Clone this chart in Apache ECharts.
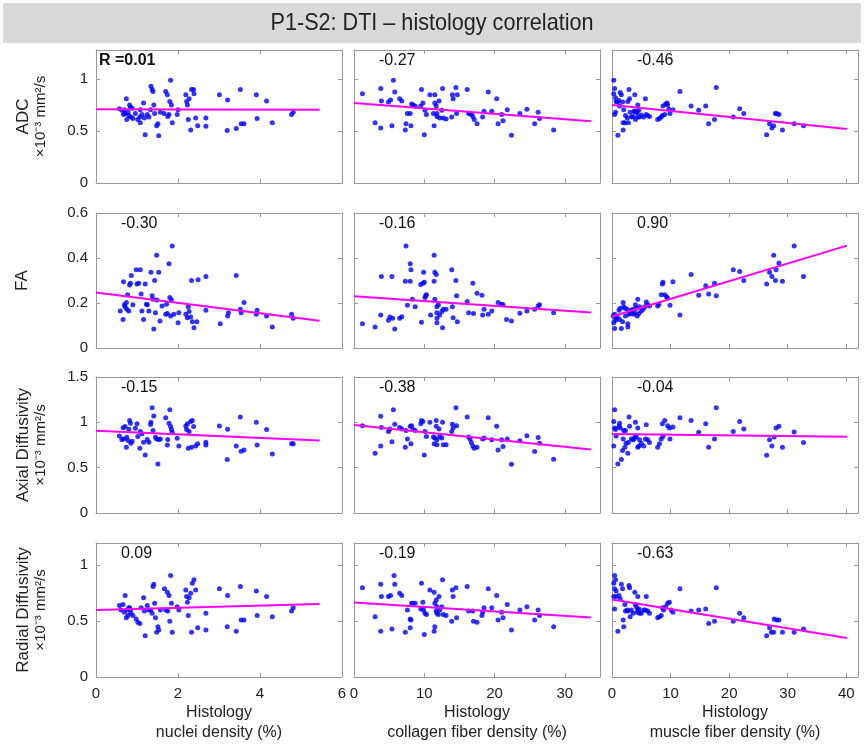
<!DOCTYPE html>
<html>
<head>
<meta charset="utf-8">
<script src="https://cdn.jsdelivr.net/npm/echarts@6/dist/echarts.min.js"></script>
<style>
  html, body { margin: 0; padding: 0; background: #fff; }
  #chart { width: 864px; height: 746px; }
</style>
</head>
<body>
<div id="chart"></div>
<script>
// ---- data ----
const chartTitle = 'P1-S2: DTI \u2013 histology correlation';
const rowNames = ['ADC', 'FA', 'Axial Diffusivity', 'Radial Diffusivity'];
const rowUnits = ['\u00d710\u207b\u00b3 mm\u00b2/s', '', '\u00d710\u207b\u00b3 mm\u00b2/s', '\u00d710\u207b\u00b3 mm\u00b2/s'];
const colNames = ['nuclei density (%)', 'collagen fiber density (%)', 'muscle fiber density (%)'];
const yMax = [1.28, 0.6, 1.5, 1.2];
const yStep = [0.5, 0.2, 0.5, 0.5];
const xMax = [6, 35, 42];
const xStep = [2, 10, 10];
const rLabels = [
  ['R =0.01', '-0.27', '-0.46'],
  ['-0.30', '-0.16', '0.90'],
  ['-0.15', '-0.38', '-0.04'],
  ['0.09', '-0.19', '-0.63']
];

const adcNuclei = [[0.57,0.715],[0.63,0.70],[0.67,0.66],[0.69,0.705],[0.71,0.67],[0.74,0.81],[0.75,0.61],[0.78,0.68],[0.80,0.65],[0.82,0.75],[0.84,0.73],[0.85,0.635],[0.88,0.72],[0.90,0.62],[0.96,0.67],[1.02,0.61],[1.07,0.635],[1.08,0.705],[1.08,0.58],[1.12,0.66],[1.16,0.77],[1.18,0.625],[1.20,0.465],[1.25,0.66],[1.29,0.635],[1.33,0.705],[1.34,0.93],[1.37,0.90],[1.39,0.88],[1.41,0.75],[1.43,0.67],[1.48,0.55],[1.51,0.57],[1.53,0.455],[1.57,0.68],[1.66,0.67],[1.70,0.88],[1.74,0.85],[1.75,0.64],[1.78,0.66],[1.80,0.785],[1.82,0.99],[1.84,0.75],[1.86,0.58],[1.98,0.66],[2.00,0.705],[2.19,0.85],[2.21,0.785],[2.23,0.75],[2.25,0.61],[2.27,0.81],[2.31,0.51],[2.33,0.90],[2.38,0.90],[2.39,0.86],[2.43,0.625],[2.48,0.55],[2.68,0.625],[2.68,0.545],[3.01,0.85],[3.20,0.505],[3.21,0.80],[3.42,0.525],[3.52,0.90],[3.54,0.57],[3.61,0.57],[3.91,0.85],[3.93,0.62],[4.16,0.79],[4.30,0.58],[4.77,0.66],[4.81,0.68]];
const adcCollagen = [[1.2,0.86],[3.0,0.58],[3.8,0.91],[3.8,0.53],[3.9,0.79],[4.9,0.78],[5.2,0.80],[5.4,0.55],[5.6,0.99],[5.8,0.875],[6.5,0.81],[6.8,0.79],[7.3,0.51],[7.4,0.57],[7.6,0.67],[8.0,0.67],[8.1,0.55],[8.2,0.76],[8.4,0.75],[8.7,0.74],[9.5,0.74],[9.6,0.90],[9.8,0.77],[10.0,0.465],[10.1,0.70],[10.3,0.66],[10.8,0.85],[11.3,0.67],[11.4,0.55],[11.5,0.85],[11.5,0.77],[11.7,0.74],[11.8,0.67],[11.8,0.64],[12.1,0.79],[12.2,0.625],[12.5,0.70],[12.6,0.91],[12.7,0.625],[13.1,0.615],[13.9,0.635],[14.0,0.85],[14.1,0.81],[14.5,0.92],[14.6,0.67],[14.7,0.85],[16.1,0.90],[16.3,0.67],[16.5,0.67],[16.7,0.66],[16.9,0.64],[17.1,0.61],[17.5,0.57],[18.3,0.635],[18.5,0.69],[19.1,0.875],[19.6,0.69],[20.3,0.81],[20.5,0.57],[21.0,0.66],[21.2,0.60],[21.8,0.705],[22.4,0.46],[23.6,0.67],[24.6,0.71],[25.7,0.57],[26.2,0.68],[26.4,0.62],[28.4,0.51]];
const adcMuscle = [[0.3,0.99],[0.45,0.91],[0.3,0.86],[0.6,0.82],[0.7,0.785],[0.9,0.78],[0.45,0.66],[0.6,0.68],[1.2,0.795],[1.3,0.74],[1.4,0.87],[1.6,0.85],[1.8,0.78],[1.9,0.58],[2.0,0.705],[2.2,0.58],[2.3,0.65],[1.0,0.46],[1.9,0.51],[2.6,0.625],[2.7,0.785],[2.8,0.58],[2.9,0.90],[3.0,0.81],[3.1,0.68],[3.3,0.635],[3.6,0.64],[3.75,0.69],[3.9,0.85],[3.9,0.69],[4.0,0.61],[4.15,0.68],[4.3,0.68],[4.4,0.635],[4.4,0.75],[4.6,0.705],[4.7,0.635],[5.0,0.655],[5.4,0.635],[5.7,0.81],[5.85,0.66],[6.1,0.65],[6.4,0.64],[7.8,0.61],[8.1,0.62],[8.4,0.635],[8.6,0.65],[8.7,0.74],[9.0,0.66],[9.15,0.76],[9.4,0.77],[9.5,0.75],[9.7,0.71],[9.9,0.67],[10.4,0.705],[11.6,0.88],[13.5,0.74],[14.8,0.70],[16.0,0.74],[16.5,0.57],[17.5,0.61],[17.8,0.92],[20.7,0.635],[21.8,0.715],[22.5,0.67],[26.4,0.465],[26.9,0.57],[27.3,0.53],[27.6,0.55],[27.9,0.67],[28.1,0.67],[28.5,0.66],[29.1,0.51],[31.1,0.57],[32.7,0.55]];

const faNuclei = [[0.59,0.165],[0.66,0.127],[0.67,0.295],[0.69,0.192],[0.71,0.183],[0.74,0.202],[0.75,0.172],[0.77,0.237],[0.80,0.165],[0.82,0.28],[0.84,0.288],[0.86,0.322],[0.90,0.192],[0.98,0.348],[1.00,0.285],[1.04,0.288],[1.08,0.348],[1.10,0.24],[1.12,0.165],[1.16,0.127],[1.20,0.285],[1.23,0.195],[1.25,0.192],[1.29,0.165],[1.34,0.337],[1.37,0.232],[1.39,0.217],[1.41,0.085],[1.43,0.30],[1.45,0.157],[1.48,0.412],[1.49,0.213],[1.53,0.337],[1.56,0.12],[1.61,0.187],[1.70,0.15],[1.72,0.195],[1.74,0.153],[1.78,0.375],[1.80,0.225],[1.82,0.142],[1.84,0.214],[1.86,0.453],[1.90,0.15],[2.00,0.112],[2.02,0.157],[2.19,0.15],[2.23,0.135],[2.25,0.183],[2.27,0.162],[2.31,0.138],[2.33,0.30],[2.35,0.117],[2.39,0.09],[2.46,0.117],[2.49,0.303],[2.68,0.168],[2.68,0.318],[3.03,0.108],[3.21,0.142],[3.23,0.157],[3.42,0.322],[3.52,0.172],[3.54,0.157],[3.61,0.202],[3.91,0.15],[3.93,0.168],[4.16,0.142],[4.30,0.093],[4.77,0.15],[4.81,0.132]];
const faCollagen = [[1.2,0.108],[3.0,0.093],[3.8,0.147],[3.9,0.318],[4.9,0.123],[5.1,0.138],[5.4,0.318],[5.5,0.132],[5.8,0.085],[6.5,0.132],[6.8,0.139],[7.3,0.297],[7.4,0.453],[7.6,0.19],[8.0,0.297],[8.0,0.375],[8.1,0.348],[8.3,0.217],[8.7,0.183],[9.5,0.282],[9.6,0.114],[9.8,0.288],[9.9,0.337],[10.0,0.292],[10.1,0.225],[10.2,0.232],[10.3,0.237],[10.9,0.147],[11.4,0.412],[11.4,0.297],[11.5,0.337],[11.5,0.217],[11.7,0.327],[11.8,0.157],[11.8,0.132],[11.8,0.183],[11.8,0.112],[12.0,0.192],[12.2,0.147],[12.5,0.162],[12.6,0.09],[12.7,0.172],[13.1,0.172],[13.9,0.348],[14.0,0.183],[14.1,0.135],[14.5,0.30],[14.6,0.232],[14.7,0.117],[16.1,0.207],[16.3,0.157],[16.9,0.288],[17.0,0.153],[17.5,0.243],[18.2,0.235],[18.3,0.147],[18.5,0.172],[19.1,0.15],[19.6,0.165],[20.5,0.202],[21.0,0.195],[21.2,0.192],[21.7,0.127],[22.4,0.12],[23.6,0.154],[24.6,0.165],[25.7,0.172],[26.2,0.187],[26.4,0.192],[28.4,0.157]];
const faMuscle = [[0.2,0.142],[0.3,0.112],[0.45,0.087],[0.45,0.15],[0.6,0.123],[0.7,0.132],[0.9,0.138],[1.2,0.168],[1.3,0.127],[1.4,0.177],[1.6,0.087],[1.8,0.117],[1.9,0.202],[2.0,0.183],[2.2,0.177],[2.3,0.142],[2.6,0.172],[2.7,0.108],[2.7,0.093],[2.9,0.15],[3.1,0.153],[3.3,0.168],[3.6,0.172],[3.7,0.15],[3.9,0.157],[4.0,0.192],[4.15,0.177],[4.3,0.142],[4.4,0.217],[4.6,0.153],[4.7,0.183],[5.0,0.165],[5.3,0.172],[5.6,0.183],[5.85,0.205],[6.1,0.192],[6.4,0.187],[7.8,0.187],[8.0,0.195],[8.4,0.237],[8.6,0.285],[8.7,0.292],[9.0,0.237],[9.3,0.228],[9.5,0.222],[9.9,0.19],[10.4,0.295],[11.6,0.147],[13.5,0.327],[14.8,0.235],[16.0,0.277],[16.5,0.24],[17.5,0.288],[17.8,0.232],[20.7,0.348],[21.8,0.34],[22.5,0.30],[26.4,0.285],[26.9,0.337],[27.3,0.318],[27.6,0.412],[27.9,0.30],[28.0,0.348],[28.5,0.378],[29.1,0.297],[31.1,0.453],[32.7,0.318]];

const adNuclei = [[0.57,0.85],[0.63,0.81],[0.66,0.94],[0.67,0.815],[0.71,0.955],[0.74,0.725],[0.75,0.835],[0.78,0.80],[0.80,0.925],[0.82,1.02],[0.84,0.99],[0.85,0.77],[0.88,0.79],[0.96,0.935],[1.00,0.985],[1.02,0.845],[1.07,0.715],[1.08,0.90],[1.12,0.875],[1.16,0.78],[1.20,0.64],[1.25,0.81],[1.29,0.78],[1.33,0.975],[1.34,1.00],[1.37,1.16],[1.39,0.91],[1.41,1.07],[1.45,0.835],[1.48,0.815],[1.51,0.54],[1.53,0.81],[1.57,0.815],[1.70,1.05],[1.74,0.75],[1.75,0.81],[1.78,0.99],[1.80,1.14],[1.82,0.955],[1.84,0.92],[1.86,0.89],[1.98,0.825],[2.02,0.74],[2.19,0.96],[2.21,0.92],[2.23,0.985],[2.25,0.715],[2.27,0.90],[2.31,1.01],[2.33,0.725],[2.35,1.02],[2.38,0.955],[2.43,0.74],[2.48,0.765],[2.68,0.78],[2.68,0.75],[3.01,0.96],[3.20,0.59],[3.21,0.925],[3.42,0.74],[3.52,1.06],[3.54,0.68],[3.61,0.695],[3.91,1.00],[3.93,0.75],[4.16,0.92],[4.30,0.65],[4.77,0.765],[4.81,0.765]];
const adCollagen = [[1.2,0.963],[3.0,0.66],[3.8,1.067],[3.8,0.74],[3.9,0.944],[4.9,0.90],[5.1,0.926],[5.4,0.785],[5.6,1.14],[5.8,0.98],[6.5,0.944],[6.8,0.926],[7.3,0.726],[7.4,0.91],[7.6,0.815],[8.0,0.956],[8.1,0.763],[8.2,0.963],[8.4,0.92],[8.7,0.91],[9.5,0.985],[9.6,1.02],[9.8,1.01],[10.0,0.64],[10.1,0.90],[10.3,0.845],[10.8,1.00],[11.3,0.837],[11.4,0.763],[11.5,0.826],[11.7,1.02],[11.7,0.956],[11.8,0.807],[11.8,0.752],[12.1,0.926],[12.2,0.845],[12.5,0.826],[12.6,1.00],[12.7,0.752],[13.1,0.752],[13.9,0.90],[14.0,0.98],[14.1,0.937],[14.5,1.16],[14.6,0.963],[16.1,1.06],[16.3,0.837],[16.5,0.815],[16.7,0.778],[16.9,0.74],[17.1,0.715],[17.5,0.726],[18.3,0.815],[18.5,0.826],[19.1,1.05],[19.6,0.807],[20.3,0.956],[20.5,0.696],[21.0,0.807],[21.2,0.733],[21.8,0.815],[22.4,0.537],[23.6,0.796],[24.6,0.852],[25.7,0.678],[26.2,0.833],[26.4,0.77],[28.4,0.593]];
const adMuscle = [[0.45,1.14],[0.3,1.01],[0.45,0.937],[0.6,0.92],[0.3,0.74],[0.7,0.85],[1.0,0.54],[1.2,0.956],[1.3,0.99],[1.4,0.937],[1.6,0.59],[1.8,0.69],[1.9,0.815],[2.0,0.91],[2.2,0.726],[2.3,0.91],[2.4,0.77],[2.7,0.66],[2.8,0.778],[2.9,1.06],[3.0,0.956],[3.3,0.815],[3.6,0.807],[3.75,0.815],[3.9,0.837],[4.0,1.00],[4.15,0.837],[4.4,0.937],[4.4,0.726],[4.6,0.74],[4.7,0.807],[5.0,0.77],[5.4,0.74],[5.7,0.815],[5.85,0.974],[6.1,0.807],[6.4,0.778],[7.8,0.726],[8.1,0.763],[8.4,0.815],[8.6,0.985],[8.7,0.845],[9.0,1.02],[9.5,0.963],[9.8,0.937],[9.9,0.815],[10.4,0.948],[11.6,1.05],[13.5,1.02],[14.8,0.89],[16.0,0.985],[16.5,0.726],[17.5,0.815],[17.8,1.16],[20.7,0.90],[21.8,1.01],[22.5,0.926],[26.4,0.637],[26.9,0.807],[27.3,0.74],[27.7,0.837],[28.0,0.937],[28.5,0.956],[29.1,0.726],[31.1,0.893],[32.7,0.778]];

const rdNuclei = [[0.57,0.64],[0.61,0.60],[0.66,0.65],[0.69,0.58],[0.71,0.73],[0.74,0.53],[0.75,0.60],[0.78,0.55],[0.80,0.62],[0.82,0.62],[0.84,0.60],[0.85,0.57],[0.90,0.55],[0.98,0.52],[1.02,0.49],[1.07,0.48],[1.10,0.62],[1.16,0.71],[1.18,0.59],[1.20,0.37],[1.25,0.64],[1.29,0.60],[1.33,0.60],[1.37,0.57],[1.39,0.81],[1.41,0.83],[1.43,0.66],[1.45,0.53],[1.48,0.40],[1.51,0.45],[1.53,0.42],[1.57,0.60],[1.67,0.79],[1.70,0.60],[1.74,0.76],[1.75,0.59],[1.78,0.73],[1.80,0.50],[1.82,0.91],[1.84,0.66],[1.86,0.40],[1.98,0.63],[2.02,0.60],[2.19,0.78],[2.21,0.72],[2.23,0.67],[2.25,0.55],[2.27,0.71],[2.31,0.75],[2.33,0.40],[2.35,0.84],[2.39,0.87],[2.43,0.78],[2.48,0.44],[2.68,0.57],[2.68,0.42],[3.01,0.79],[3.20,0.45],[3.21,0.73],[3.42,0.41],[3.52,0.81],[3.54,0.51],[3.61,0.51],[3.91,0.77],[3.93,0.55],[4.16,0.72],[4.30,0.54],[4.77,0.59],[4.81,0.62]];
const rdCollagen = [[1.2,0.80],[3.0,0.54],[3.8,0.83],[3.8,0.41],[3.9,0.72],[4.9,0.72],[5.2,0.73],[5.4,0.43],[5.7,0.91],[5.8,0.83],[6.5,0.75],[6.8,0.73],[7.3,0.40],[7.6,0.60],[8.0,0.52],[8.0,0.44],[8.1,0.51],[8.2,0.66],[8.4,0.66],[8.7,0.66],[9.5,0.61],[9.6,0.84],[9.8,0.67],[9.9,0.60],[10.0,0.38],[10.1,0.57],[10.3,0.56],[10.8,0.78],[11.4,0.76],[11.4,0.41],[11.5,0.45],[11.5,0.66],[11.7,0.69],[11.7,0.59],[11.8,0.57],[11.8,0.63],[12.0,0.56],[12.1,0.72],[12.2,0.60],[12.5,0.63],[12.6,0.87],[12.7,0.56],[13.1,0.55],[13.9,0.50],[14.0,0.78],[14.1,0.72],[14.5,0.80],[14.6,0.53],[16.1,0.81],[16.3,0.59],[16.9,0.59],[17.0,0.50],[17.5,0.49],[18.2,0.55],[18.3,0.58],[18.5,0.62],[19.1,0.79],[19.6,0.62],[20.3,0.73],[20.5,0.51],[21.0,0.58],[21.2,0.53],[21.8,0.65],[22.4,0.42],[23.6,0.60],[24.6,0.63],[25.7,0.51],[26.2,0.60],[26.4,0.55],[28.4,0.45]];
const rdMuscle = [[0.45,0.91],[0.3,0.84],[0.6,0.87],[0.45,0.79],[0.3,0.72],[0.7,0.77],[0.45,0.61],[0.7,0.72],[1.0,0.41],[1.2,0.73],[1.4,0.70],[1.6,0.83],[1.8,0.79],[1.9,0.51],[2.0,0.45],[2.2,0.65],[2.3,0.59],[2.6,0.60],[2.7,0.59],[2.9,0.82],[3.0,0.80],[3.1,0.54],[3.3,0.60],[3.6,0.57],[3.9,0.76],[4.0,0.65],[4.15,0.63],[4.3,0.58],[4.4,0.60],[4.4,0.72],[4.6,0.61],[4.7,0.57],[5.0,0.57],[5.4,0.60],[5.7,0.60],[5.85,0.72],[6.1,0.59],[6.4,0.57],[7.8,0.53],[8.1,0.54],[8.4,0.55],[8.6,0.62],[8.8,0.60],[9.15,0.63],[9.5,0.66],[9.8,0.67],[10.1,0.60],[10.4,0.58],[11.6,0.79],[13.5,0.59],[14.8,0.60],[16.0,0.61],[16.5,0.48],[17.5,0.50],[17.8,0.80],[20.7,0.50],[21.8,0.57],[22.5,0.53],[26.4,0.37],[26.9,0.44],[27.2,0.40],[27.6,0.40],[27.7,0.52],[28.1,0.51],[28.5,0.51],[29.1,0.40],[31.1,0.40],[32.7,0.43]];

// regression line end points [x, y]
const fitAdcNuclei = [[0, 0.71], [5.45, 0.705]];
const fitAdcCollagen = [[0, 0.77], [33.7, 0.595]];
const fitAdcMuscle = [[0, 0.75], [40.1, 0.52]];
const fitFaNuclei = [[0, 0.247], [5.45, 0.121]];
const fitFaCollagen = [[0, 0.23], [33.7, 0.158]];
const fitFaMuscle = [[0, 0.14], [40.1, 0.455]];
const fitAdNuclei = [[0, 0.908], [5.45, 0.80]];
const fitAdCollagen = [[0, 0.97], [33.7, 0.70]];
const fitAdMuscle = [[0, 0.87], [40.1, 0.84]];
const fitRdNuclei = [[0, 0.60], [5.45, 0.653]];
const fitRdCollagen = [[0, 0.667], [33.7, 0.533]];
const fitRdMuscle = [[0, 0.695], [40.1, 0.35]];

const points = [
  [adcNuclei, adcCollagen, adcMuscle],
  [faNuclei, faCollagen, faMuscle],
  [adNuclei, adCollagen, adMuscle],
  [rdNuclei, rdCollagen, rdMuscle]
];
const fits = [
  [fitAdcNuclei, fitAdcCollagen, fitAdcMuscle],
  [fitFaNuclei, fitFaCollagen, fitFaMuscle],
  [fitAdNuclei, fitAdCollagen, fitAdMuscle],
  [fitRdNuclei, fitRdCollagen, fitRdMuscle]
];

// ---- layout ----
const gridLeft = [96, 354, 612];
const gridTop = [50, 213, 377, 543];
const gridHeight = [133, 135, 136, 134];
const gridWidth = 246;
const font = '"Liberation Sans", Arial, Helvetica, sans-serif';
const boxColor = '#999';

const chart = echarts.init(document.getElementById('chart'));

const grid = [], xAxis = [], yAxis = [], series = [], graphic = [];

graphic.push({
  type: 'rect', shape: { x: 3, y: 3, width: 858, height: 40 },
  style: { fill: '#d9d9d9' }, silent: true
});
// the original title uses a condensed face; squeeze a regular one
graphic.push({
  type: 'text', x: 432, y: 23, scaleX: 0.9,
  style: { text: chartTitle, fill: '#222', fontSize: 24, fontFamily: font,
    align: 'center', verticalAlign: 'middle' }
});

for (let r = 0; r < 4; r++) {
  for (let c = 0; c < 3; c++) {
    const g = grid.length;
    grid.push({ left: gridLeft[c], top: gridTop[r], width: gridWidth, height: gridHeight[r] });
    const tick = { show: true, inside: true, length: 4, lineStyle: { color: boxColor } };
    const line = { show: true, onZero: false, lineStyle: { color: boxColor, width: 1 } };
    const xBase = { type: 'value', gridIndex: g, min: 0, max: xMax[c], interval: xStep[c],
      axisLine: line, axisTick: tick, splitLine: { show: false } };
    const yBase = { type: 'value', gridIndex: g, min: 0, max: yMax[r], interval: yStep[r],
      axisLine: line, axisTick: tick, splitLine: { show: false } };
    xAxis.push(Object.assign({}, xBase, {
      position: 'bottom',
      axisLabel: { show: r === 3, showMaxLabel: c === 0, margin: 9, color: '#222', fontSize: 15, fontFamily: font }
    }));
    xAxis.push(Object.assign({}, xBase, { position: 'top', axisLabel: { show: false } }));
    yAxis.push(Object.assign({}, yBase, {
      position: 'left',
      axisLabel: { show: c === 0, showMaxLabel: r === 1 || r === 2, margin: 8, color: '#222', fontSize: 15, fontFamily: font }
    }));
    yAxis.push(Object.assign({}, yBase, { position: 'right', axisLabel: { show: false } }));

    series.push({
      type: 'scatter', xAxisIndex: 2 * g, yAxisIndex: 2 * g,
      symbol: 'circle', symbolSize: 5, itemStyle: { color: '#0000ff' },
      data: points[r][c], z: 2
    });
    series.push({
      type: 'line', xAxisIndex: 2 * g, yAxisIndex: 2 * g,
      showSymbol: false, lineStyle: { color: '#ff00ff', width: 2 },
      data: fits[r][c], z: 3
    });

    graphic.push({
      type: 'text',
      x: gridLeft[c] + (r === 0 && c === 0 ? 3 : 25),
      y: gridTop[r] + 11,
      style: { text: rLabels[r][c], fill: '#111', fontSize: 16, fontFamily: font,
        fontWeight: r === 0 && c === 0 ? 'bold' : 'normal',
        align: 'left', verticalAlign: 'middle' }
    });
  }
  // row label
  const cy = gridTop[r] + gridHeight[r] / 2;
  const txt = rowUnits[r] ? '{a|' + rowNames[r] + '}\n{b|' + rowUnits[r] + '}' : '{a|' + rowNames[r] + '}';
  graphic.push({
    type: 'text', x: rowUnits[r] ? 32 : 22, y: cy, rotation: Math.PI / 2,
    style: {
      text: txt, align: 'center', verticalAlign: 'middle', fill: '#222', fontFamily: font,
      rich: {
        a: { fontSize: 17, lineHeight: 17, fontFamily: font, fill: '#222' },
        b: { fontSize: 15, lineHeight: 17, fontFamily: font, fill: '#222' }
      }
    }
  });
}

for (let c = 0; c < 3; c++) {
  graphic.push({
    type: 'text', x: gridLeft[c] + gridWidth / 2, y: 723,
    style: { text: 'Histology\n' + colNames[c], align: 'center', verticalAlign: 'middle',
      fontSize: 16, lineHeight: 20, fill: '#222', fontFamily: font }
  });
}

chart.setOption({
  animation: false,
  backgroundColor: '#fff',
  grid: grid,
  xAxis: xAxis,
  yAxis: yAxis,
  series: series,
  graphic: graphic
});
</script>
</body>
</html>
